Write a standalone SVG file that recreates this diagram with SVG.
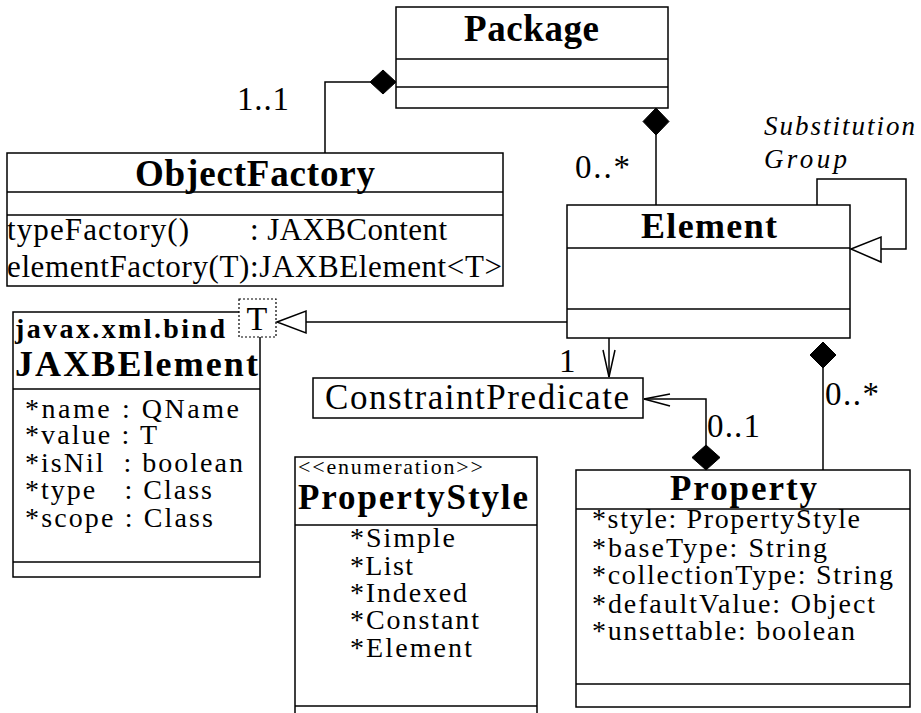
<svg xmlns="http://www.w3.org/2000/svg" width="921" height="713" viewBox="0 0 921 713">
<defs>
<style>
.box{fill:#fff;stroke:#000;stroke-width:1.5}
.dv{stroke:#000;stroke-width:1.5;fill:none}
.ln{stroke:#000;stroke-width:1.5;fill:none}
.t{font-family:"Liberation Serif","Times New Roman",serif;fill:#000}
.b{font-weight:bold}
.i{font-style:italic}
.dia{fill:#000;stroke:#000;stroke-width:1}
.tri{fill:#fff;stroke:#000;stroke-width:1.5}
.dot{fill:#fff;stroke:#000;stroke-width:1.2;stroke-dasharray:2 2}
</style>
</defs>
<rect width="921" height="713" fill="#fff"/>

<g id="Package">
<rect class="box" x="396" y="7" width="272" height="101"/>
<line class="dv" x1="396" y1="59" x2="668" y2="59"/>
<line class="dv" x1="396" y1="87" x2="668" y2="87"/>
<text class="t b" x="464" y="41" font-size="37" textLength="135">Package</text>
</g>

<g id="ObjectFactory">
<rect class="box" x="7" y="153" width="496" height="133"/>
<line class="dv" x1="7" y1="192" x2="503" y2="192"/>
<line class="dv" x1="7" y1="215" x2="503" y2="215"/>
<text class="t b" x="135" y="186" font-size="37" textLength="240">ObjectFactory</text>
<text class="t" x="7" y="240" font-size="31" textLength="182">typeFactory()</text>
<text class="t" x="250" y="240" font-size="31" textLength="197">: JAXBContent</text>
<text class="t" x="7" y="277" font-size="31" textLength="495">elementFactory(T):JAXBElement&lt;T&gt;</text>
</g>

<g id="Element">
<rect class="box" x="567" y="205" width="283" height="133"/>
<line class="dv" x1="567" y1="248" x2="850" y2="248"/>
<line class="dv" x1="567" y1="309" x2="850" y2="309"/>
<text class="t b" x="641" y="238" font-size="36" textLength="136">Element</text>
</g>

<g id="JAXBElement">
<rect class="box" x="13" y="312" width="247" height="265"/>
<line class="dv" x1="13" y1="389" x2="260" y2="389"/>
<line class="dv" x1="13" y1="562" x2="260" y2="562"/>
<text class="t b" x="15" y="338" font-size="28" textLength="210">javax.xml.bind</text>
<text class="t b" x="15" y="376" font-size="36" textLength="243">JAXBElement</text>
<text class="t" x="25" y="418" font-size="28" textLength="214">*name : QName</text>
<text class="t" x="25" y="444" font-size="28" textLength="132">*value : T</text>
<text class="t" x="25" y="472" font-size="28" textLength="218">*isNil&#160; : boolean</text>
<text class="t" x="25" y="499" font-size="28" textLength="187">*type&#160;&#160; : Class</text>
<text class="t" x="25" y="527" font-size="28" textLength="188">*scope : Class</text>
<rect class="dot" x="239" y="299" width="37" height="38"/>
<text class="t" x="257" y="330" font-size="34" text-anchor="middle">T</text>
</g>

<g id="ConstraintPredicate">
<rect class="box" x="313" y="378" width="330" height="40"/>
<text class="t" x="325" y="409" font-size="35" textLength="304">ConstraintPredicate</text>
</g>

<g id="PropertyStyle">
<rect class="box" x="295" y="457" width="242" height="270"/>
<line class="dv" x1="295" y1="525" x2="537" y2="525"/>
<line class="dv" x1="295" y1="706" x2="537" y2="706"/>
<text class="t" x="298" y="474" font-size="22" textLength="185">&lt;&lt;enumeration&gt;&gt;</text>
<text class="t b" x="298" y="509" font-size="35" textLength="230">PropertyStyle</text>
<text class="t" x="350" y="547" font-size="28" textLength="105">*Simple</text>
<text class="t" x="350" y="575" font-size="28" textLength="63">*List</text>
<text class="t" x="350" y="602" font-size="28" textLength="117">*Indexed</text>
<text class="t" x="350" y="629" font-size="28" textLength="129">*Constant</text>
<text class="t" x="350" y="657" font-size="28" textLength="122">*Element</text>
</g>

<g id="Property">
<rect class="box" x="576" y="470" width="334" height="237"/>
<line class="dv" x1="576" y1="509" x2="910" y2="509"/>
<line class="dv" x1="576" y1="684" x2="910" y2="684"/>
<text class="t b" x="670" y="500" font-size="35" textLength="147">Property</text>
<text class="t" x="592" y="528" font-size="28" textLength="268">*style: PropertyStyle</text>
<text class="t" x="592" y="557" font-size="28" textLength="235">*baseType: String</text>
<text class="t" x="592" y="584" font-size="28" textLength="301">*collectionType: String</text>
<text class="t" x="592" y="613" font-size="28" textLength="283">*defaultValue: Object</text>
<text class="t" x="592" y="640" font-size="28" textLength="263">*unsettable: boolean</text>
</g>

<g id="connectors">
<polyline class="ln" points="370,82 325,82 325,153"/>
<polygon class="dia" points="396,82 383,70 370,82 383,94"/>
<text class="t" x="237" y="110" font-size="33" textLength="52">1..1</text>

<line class="ln" x1="656" y1="135" x2="656" y2="205"/>
<polygon class="dia" points="656,108 669,121.5 656,135 643,121.5"/>
<text class="t" x="575" y="178" font-size="33" textLength="55">0..*</text>

<polyline class="ln" points="817,205 817,179 906,179 906,249 881,249"/>
<polygon class="tri" points="851,249 881,237 881,262"/>
<text class="t i" x="764" y="135" font-size="27" textLength="151">Substitution</text>
<text class="t i" x="764" y="168" font-size="27" textLength="83">Group</text>

<line class="ln" x1="306" y1="322" x2="567" y2="322"/>
<polygon class="tri" points="277,322 306,311 306,333"/>

<line class="ln" x1="609" y1="338" x2="609" y2="377"/>
<polyline class="ln" points="603,350 609,377 615,350"/>
<text class="t" x="559" y="372" font-size="33">1</text>

<polyline class="ln" points="706,445 706,399 644,399"/>
<polyline class="ln" points="670,394 644,399 670,406"/>
<polygon class="dia" points="706,445 720,457.5 706,470 692,457.5"/>
<text class="t" x="707" y="437" font-size="33" textLength="53">0..1</text>

<line class="ln" x1="823" y1="368" x2="823" y2="470"/>
<polygon class="dia" points="823,342 836,355 823,368 810,355"/>
<text class="t" x="825" y="405" font-size="33" textLength="54">0..*</text>
</g>
</svg>
